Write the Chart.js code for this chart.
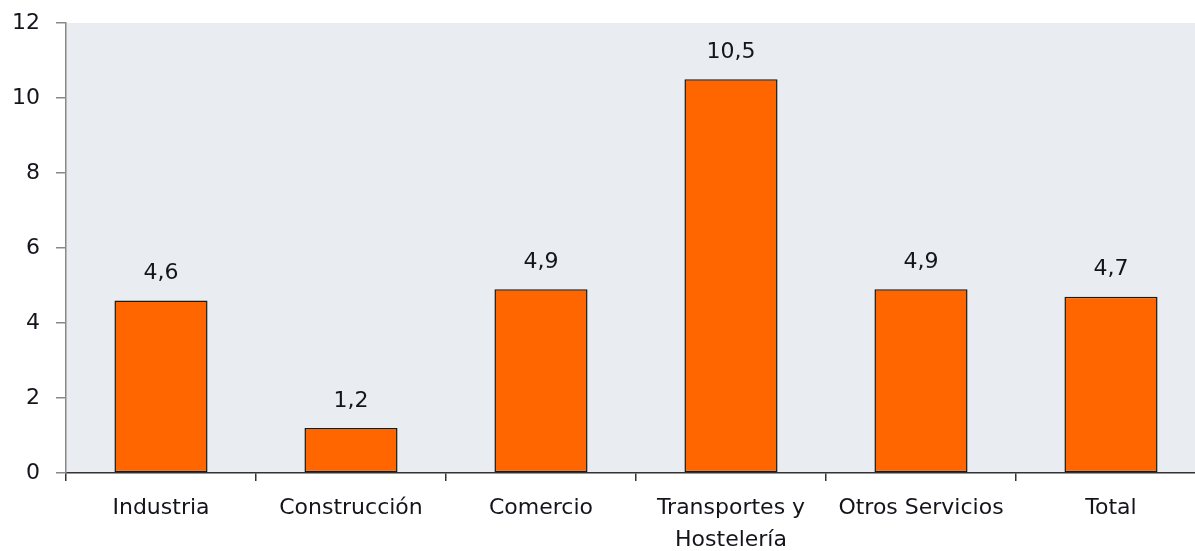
<!DOCTYPE html>
<html>
<head>
<meta charset="utf-8">
<script src="https://cdn.jsdelivr.net/npm/chart.js@4"></script>
<style>
    html, body { margin: 0; padding: 0; background: #fff; overflow: hidden; }
    #wrap { width: 1206px; height: 551px; }
</style>
</head>
<body>
<div id="wrap"><canvas id="bar-chart"></canvas></div>
<script>
/* chart data */
const categories = ["Industria", "Construcción", "Comercio", ["Transportes y", "Hostelería"], "Otros Servicios", "Total"];
const values = [4.6, 1.2, 4.9, 10.5, 4.9, 4.7];
const yTicks = [0, 2, 4, 6, 8, 10, 12];

const barColor = "#FF6600";
const plotBackground = "#E9EDF1";
const textColor = "#14141c";
const fontFamily = "'DejaVu Sans', Verdana, sans-serif";

// fill the plot area with the grey background
const plotBgPlugin = {
    id: "plotBg",
    beforeDraw(chart) {
        const { ctx, chartArea } = chart;
        ctx.save();
        ctx.fillStyle = plotBackground;
        ctx.fillRect(chartArea.left, chartArea.top, chartArea.right - chartArea.left, chartArea.bottom - chartArea.top);
        ctx.restore();
    }
};

// value labels above bars, with decimal comma
const valueLabelPlugin = {
    id: "valueLabels",
    afterDatasetsDraw(chart) {
        const { ctx } = chart;
        const meta = chart.getDatasetMeta(0);
        ctx.save();
        ctx.font = "22px " + fontFamily;
        ctx.fillStyle = textColor;
        ctx.textAlign = "center";
        ctx.textBaseline = "middle";
        meta.data.forEach((bar, i) => {
            const label = values[i].toFixed(1).replace(".", ",");
            ctx.fillText(label, bar.x, bar.y - 27);
        });
        ctx.restore();
    }
};

const ctx = document.getElementById("bar-chart").getContext("2d");

new Chart(ctx, {
    type: "bar",
    data: {
        labels: categories,
        datasets: [{
            data: values,
            backgroundColor: barColor,
            borderColor: "#1a1a1a",
            borderWidth: 1.5,
            borderSkipped: false,
            categoryPercentage: 1,
            barPercentage: 0.49
        }]
    },
    options: {
        responsive: true,
        maintainAspectRatio: false,
        animation: false,
        layout: { padding: { top: 23, right: 0, bottom: 0, left: 0 } },
        plugins: {
            legend: { display: false },
            tooltip: { enabled: false }
        },
        scales: {
            x: {
                offset: true,
                grid: {
                    offset: true,
                    drawOnChartArea: false,
                    drawTicks: true,
                    tickLength: 8,
                    color: "#333",
                    lineWidth: 1.5
                },
                border: { color: "#333", width: 1.5 },
                ticks: {
                    color: textColor,
                    font: { family: fontFamily, size: 22, lineHeight: 1.45 },
                    padding: 11,
                    maxRotation: 0,
                    autoSkip: false
                },
                afterFit(scale) { scale.height = 78; }
            },
            y: {
                min: 0,
                max: 12,
                afterBuildTicks(scale) {
                    scale.ticks = yTicks.map(v => ({ value: v }));
                },
                grid: {
                    drawOnChartArea: false,
                    drawTicks: true,
                    tickLength: 10,
                    color: "#888",
                    lineWidth: 1.5
                },
                border: { color: "#888", width: 1.5 },
                ticks: {
                    color: textColor,
                    font: { family: fontFamily, size: 22, lineHeight: 0.6 },
                    padding: 16
                },
                afterFit(scale) { scale.width = 66; }
            }
        }
    },
    plugins: [plotBgPlugin, valueLabelPlugin]
});
</script>
</body>
</html>
